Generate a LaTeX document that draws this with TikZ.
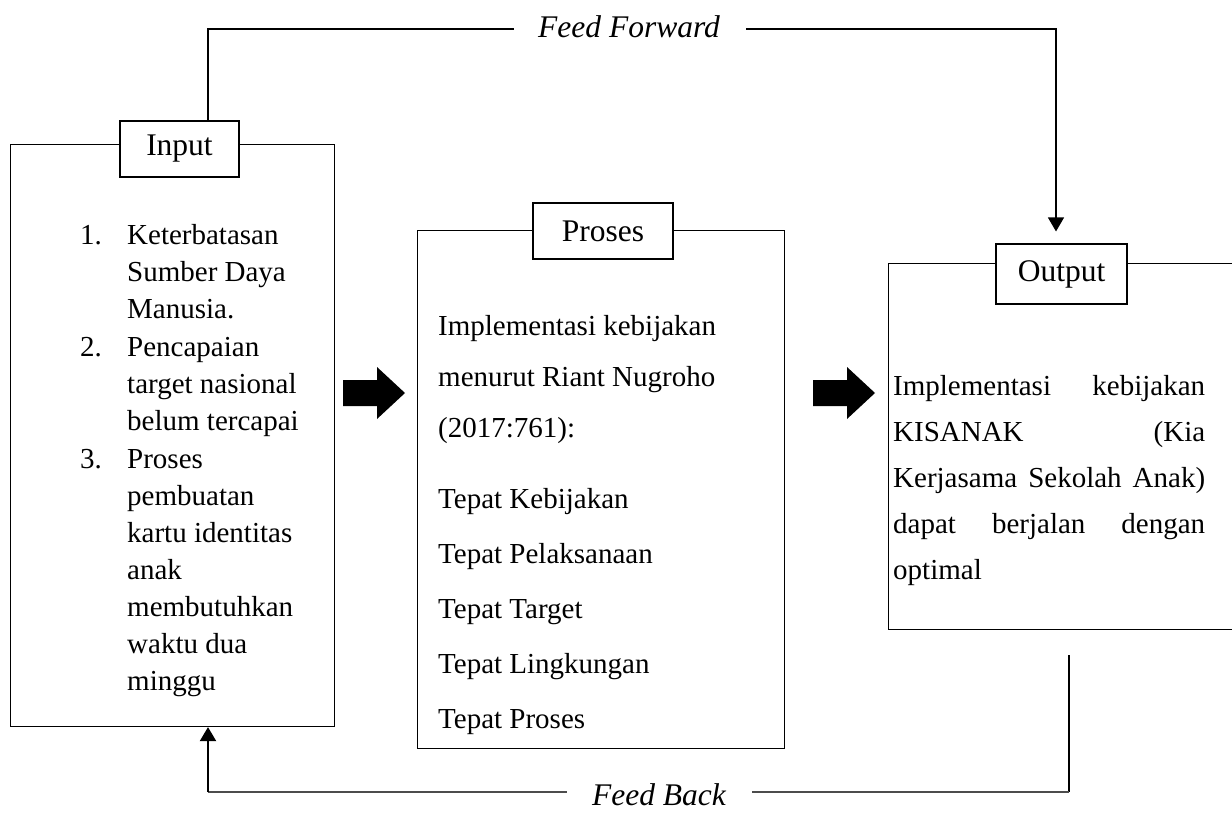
\documentclass[tikz,border=0pt]{standalone}
\usepackage{fontspec}
\setmainfont{Liberation Serif}
\usetikzlibrary{arrows.meta,calc}
\begin{document}
\begin{tikzpicture}[x=1pt,y=-1pt,
  body/.style={font=\fontsize{29}{36}\selectfont, inner sep=0pt, anchor=base west},
  lbl/.style={draw, fill=white, line width=1.1pt, font=\fontsize{31.5}{36}\selectfont, inner sep=0pt},
  frame/.style={draw, line width=1.1pt, inner sep=0pt, anchor=north west},
  conn/.style={line width=1.1pt},
  fb/.style={line width=2pt, draw=black!70},
  tip/.style={-{Triangle[width=16pt,length=14pt]}},
  blk/.style={fill=black},
  flowlbl/.style={font=\fontsize{31.5}{36}\selectfont\itshape, inner sep=0pt, anchor=base}
]
\useasboundingbox (0,0) rectangle (1232,812);

% frames
\node[frame, minimum width=324pt, minimum height=582pt] (inbox) at (10,144) {};
\node[frame, minimum width=367pt, minimum height=518pt] (prbox) at (417,230) {};
\node[frame, minimum width=380pt, minimum height=366pt] (outbox) at (888,263) {};

% labels
\node[lbl, minimum width=119pt, minimum height=56pt] (inlbl) at (179.5,149) {Input};
\node[lbl, minimum width=140pt, minimum height=56pt] (prlbl) at (603,231) {Proses};
\node[lbl, minimum width=131pt, minimum height=60pt] (outlbl) at (1061.5,274) {Output};

% input list
\node[body] (n1) at (80,244) {1.};
\node[body] (n2) at (80,356) {2.};
\node[body] (n3) at (80,468) {3.};
\foreach \t/\y [count=\i] in {Keterbatasan/244, Sumber Daya/281, Manusia./318,
  Pencapaian/356, target nasional/393, belum tercapai/430,
  Proses/468, pembuatan/505, kartu identitas/542, anak/579,
  membutuhkan/616, waktu dua/653, minggu/690}
  \node[body] (in\i) at (127,\y) {\t};

% proses text
\foreach \t/\y [count=\i] in {Implementasi kebijakan/335, menurut Riant Nugroho/386,
  (2017:761):/437, Tepat Kebijakan/508, Tepat Pelaksanaan/563, Tepat Target/618,
  Tepat Lingkungan/673, Tepat Proses/728}
  \node[body] (pr\i) at (438,\y) {\t};

% output text
\node[body] (out1) at (893,395) {\makebox[312pt][s]{Implementasi kebijakan}};
\node[body] (out2) at (893,441) {\makebox[312pt][s]{KISANAK (Kia}};
\node[body] (out3) at (893,487) {\makebox[312pt][s]{Kerjasama Sekolah Anak)}};
\node[body] (out4) at (893,533) {\makebox[312pt][s]{dapat berjalan dengan}};
\node[body] (out5) at (893,579) {optimal};

% block arrows
\fill[blk] (343,380) -- (377,380) -- (377,367) -- (405,393) -- (377,419) -- (377,406) -- (343,406) -- cycle;
\fill[blk] (813,380) -- (847,380) -- (847,367) -- (875,393) -- (847,419) -- (847,406) -- (813,406) -- cycle;

% feed forward
\coordinate (ffL) at (208,29);
\coordinate (ffR) at (1056,29);
\node[flowlbl] (fft) at (629,37) {Feed Forward};
\draw[conn] (inlbl.north -| ffL) -- (ffL) -- ($(fft.west |- ffL)+(-24,0)$);
\draw[conn,tip] ($(fft.east |- ffR)+(26,0)$) -- (ffR) -- ($(outlbl.north -| ffR)+(0,-12)$);

% feed back
\coordinate (fbTop) at (1069,655);
\coordinate (fbR) at (1069,792);
\coordinate (fbL) at (208,792);
\node[flowlbl] (fbt) at (659,805) {Feed Back};
\draw[line width=1.4pt] (fbTop) -- (fbR);
\draw[fb] (fbR) -- ($(fbt.east |- fbR)+(26,0)$);
\draw[fb] ($(fbt.west |- fbR)+(-25,0)$) -- (fbL);
\draw[line width=2.2pt, tip] (fbL) -- (inbox.south -| fbL);
\end{tikzpicture}
\end{document}
